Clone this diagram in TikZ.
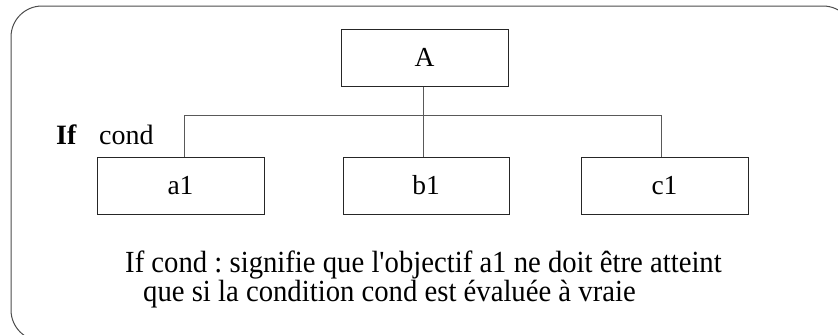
\documentclass[tikz,border=0pt]{standalone}
\usepackage{fontspec}
\setmainfont{Liberation Serif}
\frenchspacing
\begin{document}
\begin{tikzpicture}[x=1bp,y=-1bp,
  box/.style={draw=black!85,line width=1bp,minimum width=167bp,minimum height=57bp,inner sep=0pt,font=\fontsize{27.5bp}{30bp}\selectfont},
  conn/.style={draw=black!65,line width=1bp},
  txt/.style={inner sep=0pt,anchor=base west,font=\fontsize{28bp}{30bp}\selectfont},
  para/.style={inner sep=0pt,anchor=base west,font=\fontsize{28.7bp}{30bp}\selectfont}]
\useasboundingbox (0,0) rectangle (838,334);
\clip (0,0) rectangle (838,334);
\draw[black!70,line width=1bp,rounded corners=31bp] (11,6) rectangle (854,341);
\node[box] (A) at (424.5,57.5) {A};
\node[box] (a1) at (180.5,185.5) {a1};
\node[box,minimum width=166bp] (b1) at (426,185.5) {b1};
\node[box] (c1) at (664.5,185.5) {c1};
\coordinate (ta) at (184,115);
\coordinate (tb) at (423,115);
\coordinate (tc) at (661,115);
\draw[conn] (A.south -| tb) -- (b1.north -| tb);
\draw[conn] (a1.north -| ta) -- (ta) -- (tc) -- (c1.north -| tc);
\node[txt,font=\fontsize{28bp}{30bp}\selectfont\bfseries] (if) at (56,144) {If};
\node[txt] (cond) at (99,144) {cond};
\node[para] (l1) at (125,272) {\scalebox{1}[1.07]{If cond : signifie que l\textquotesingle objectif a1 ne doit être atteint}};
\node[para] (l2) at (143,301) {\scalebox{1}[1.07]{que si la condition cond est évaluée à vraie}};
\end{tikzpicture}
\end{document}
